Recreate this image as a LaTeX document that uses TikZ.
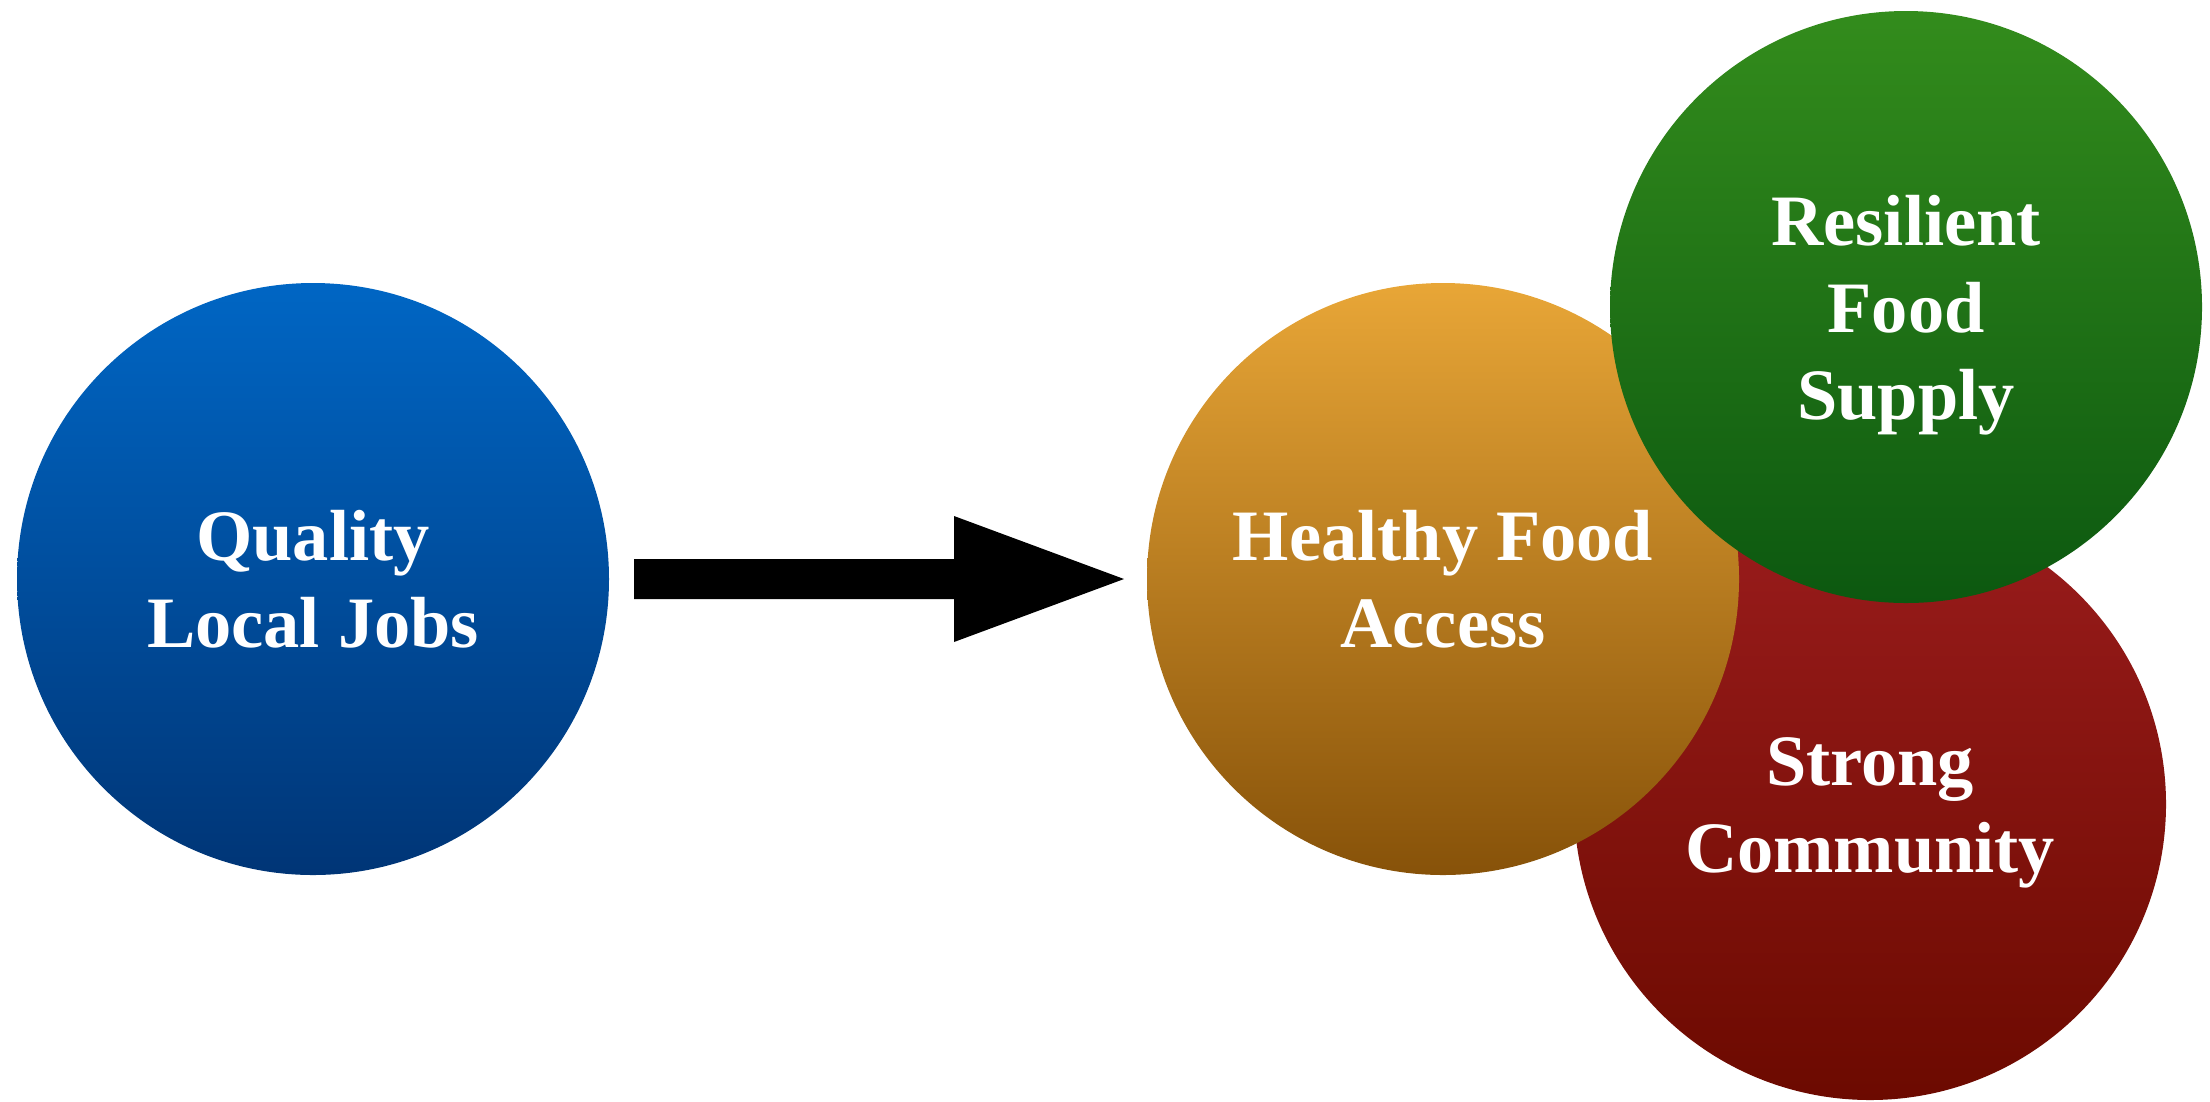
\documentclass[tikz,border=0pt]{standalone}
\usepackage{fontspec}
\setmainfont{Liberation Serif}
\definecolor{bluetop}{HTML}{0066C4}
\definecolor{bluebot}{HTML}{003576}
\definecolor{orgtop}{HTML}{E8A637}
\definecolor{orgbot}{HTML}{875209}
\definecolor{grntop}{HTML}{338C1C}
\definecolor{grnbot}{HTML}{0C5810}
\definecolor{redtop}{HTML}{9A1C1C}
\definecolor{redbot}{HTML}{6C0A00}
\tikzset{
  bubble/.style={circle, minimum size=59.2mm, inner sep=0pt, align=center,
    text=white, font=\fontsize{20.6}{24.75}\selectfont\bfseries},
  bubbletext/.style={inner sep=0pt, align=center,
    text=white, font=\fontsize{20.6}{24.75}\selectfont\bfseries},
}
\begin{document}
\begin{tikzpicture}[x=0.1mm, y=-0.1mm]
\useasboundingbox (0,0) rectangle (2210,1101);
% circles
\node[bubble, top color=redtop, bottom color=redbot] (red) at (1870,804) {};
\node[bubbletext] (redtxt) at ([yshift=-0.9mm]red.center) {Strong\\Community};
\node[bubble, top color=bluetop, bottom color=bluebot] (blue) at (313,579) {Quality\\Local Jobs};
\node[bubble, top color=orgtop, bottom color=orgbot] (orange) at (1443,579) {Healthy Food\\Access};
\node[bubble, top color=grntop, bottom color=grnbot] (green) at (1906,307) {};
\node[bubbletext] (grntxt) at ([yshift=-0.8mm]green.center) {Resilient\\Food\\Supply};
% block arrow
\coordinate (as) at (634,579);
\coordinate (at) at (1124,579);
\fill[black] (as) ++(0,-20) -- ++(320,0) -- ++(0,-43) -- (at) -- ++(-170,63) -- ++(0,-43) -- ++(-320,0) -- cycle;
\end{tikzpicture}
\end{document}
